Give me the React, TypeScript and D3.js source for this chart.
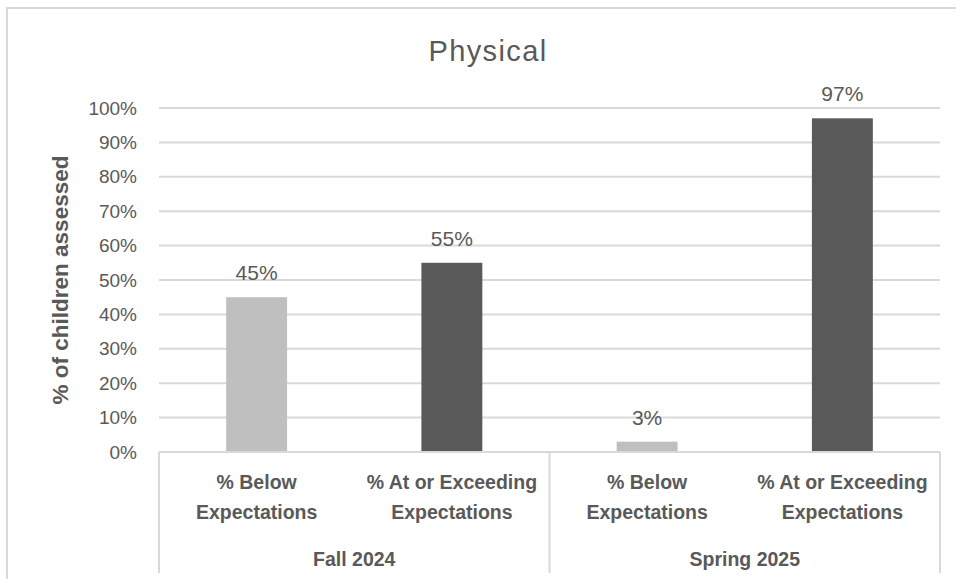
import React from "react";
import * as d3 from "d3";

const title = "Physical";
const yAxisTitle = "% of children assessed";
const groups = ["Fall 2024", "Spring 2025"];
const categories = [
  "% Below|Expectations",
  "% At or Exceeding|Expectations",
  "% Below|Expectations",
  "% At or Exceeding|Expectations",
];
const categoryGroup = [0, 0, 1, 1];
const values = [45, 55, 3, 97];
const barColors = ["#bfbfbf", "#595959", "#bfbfbf", "#595959"];
const yTicks = [0, 10, 20, 30, 40, 50, 60, 70, 80, 90, 100];

const W = 956;
const H = 579;
const left = 159;
const right = 940;
const top = 108;
const bottom = 452;

export default function App() {
  const x = d3
    .scaleBand<number>()
    .domain(d3.range(categories.length))
    .range([left, right])
    .paddingInner(0.688)
    .paddingOuter(0.344);
  const band = (right - left) / categories.length;
  const y = d3.scaleLinear().domain([0, 100]).range([bottom, top]);
  const sans = "'Liberation Sans', Arial, sans-serif";
  const grey = "#595959";
  const line = "#d9d9d9";

  return (
    <svg
      width={W}
      height={H}
      style={{ position: "absolute", left: 0, top: 0, background: "#fff" }}
    >
      <rect x={7} y={8} width={W + 10} height={H + 10} fill="#fff" stroke={line} strokeWidth={2} />
      <text
        x={488}
        y={61}
        textAnchor="middle"
        fontFamily={sans}
        fontSize={29}
        letterSpacing={1.4}
        fill={grey}
      >
        {title}
      </text>
      {yTicks.map((t) =>
        t === 0 ? null : (
          <line key={"g" + t} x1={left} x2={right} y1={y(t)} y2={y(t)} stroke={line} strokeWidth={2} />
        )
      )}
      {yTicks.map((t) => (
        <text
          key={"t" + t}
          x={137}
          y={y(t)}
          dy="0.35em"
          textAnchor="end"
          fontFamily={sans}
          fontSize={19}
          fill={grey}
        >
          {t + "%"}
        </text>
      ))}
      <text
        transform={`translate(68,${(top + bottom) / 2}) rotate(-90)`}
        textAnchor="middle"
        fontFamily={sans}
        fontWeight="bold"
        fontSize={22.5}
        fill={grey}
      >
        {yAxisTitle}
      </text>
      {values.map((v, i) => (
        <g key={"b" + i}>
          <rect
            x={x(i)!}
            y={y(v)}
            width={x.bandwidth()}
            height={y(0) - y(v)}
            fill={barColors[i]}
          />
          <text
            x={x(i)! + x.bandwidth() / 2}
            y={y(v) - 17}
            textAnchor="middle"
            fontFamily={sans}
            fontSize={21}
            fill={grey}
          >
            {v + "%"}
          </text>
        </g>
      ))}
      <line x1={left} x2={right} y1={bottom} y2={bottom} stroke={line} strokeWidth={2} />
      {[0, 2, 4].map((k) => (
        <line
          key={"s" + k}
          x1={left + k * band}
          x2={left + k * band}
          y1={bottom}
          y2={573}
          stroke={line}
          strokeWidth={2}
        />
      ))}
      {categories.map((c, i) => {
        const cx = x(i)! + x.bandwidth() / 2;
        return c.split("|").map((part, j) => (
          <text
            key={"c" + i + j}
            x={cx}
            y={482 + j * 30}
            dy="0.35em"
            textAnchor="middle"
            fontFamily={sans}
            fontWeight="bold"
            fontSize={19.5}
            fill={grey}
          >
            {part}
          </text>
        ));
      })}
      {groups.map((g, gi) => {
        const idx = categoryGroup.map((cg, i) => (cg === gi ? i : -1)).filter((i) => i >= 0);
        const gx = left + (d3.mean(idx)! + 0.5) * band;
        return (
          <text
            key={"grp" + gi}
            x={gx}
            y={559}
            dy="0.35em"
            textAnchor="middle"
            fontFamily={sans}
            fontWeight="bold"
            fontSize={19.5}
            fill={grey}
          >
            {g}
          </text>
        );
      })}
    </svg>
  );
}
